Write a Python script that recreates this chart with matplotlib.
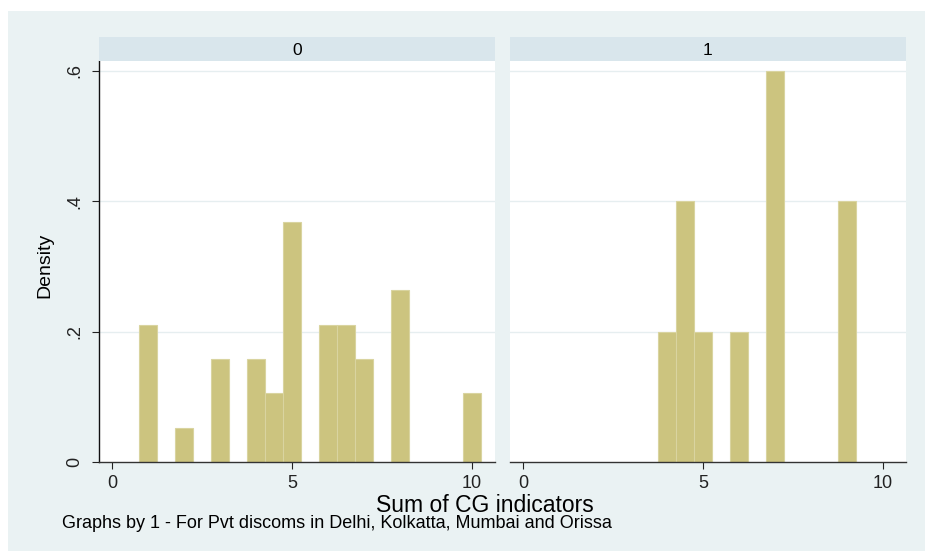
import matplotlib.pyplot as plt
import matplotlib.patches as patches

# Data -------------------------------------------------------------------

panel_labels = ["0", "1"]
# bin centres (bin width 0.5) and densities
centres_0 = [1, 2, 3, 4, 4.5, 5, 6, 6.5, 7, 8, 10]
density_0 = [4/19, 1/19, 3/19, 3/19, 2/19, 7/19, 4/19, 4/19, 3/19, 5/19, 2/19]
centres_1 = [4, 4.5, 5, 6, 7, 9]
density_1 = [0.2, 0.4, 0.2, 0.2, 0.6, 0.4]
bin_width = 0.5

x_ticks = [0, 5, 10]
y_ticks = [0, 0.2, 0.4, 0.6]
y_tick_labels = ["0", ".2", ".4", ".6"]

#-------------------------------------------------------------------------

plt.rcParams['font.family'] = ['Liberation Sans', 'DejaVu Sans']

W, H = 925, 551
fig = plt.figure(figsize=(W / 100, H / 100), dpi=100)
fig.patch.set_facecolor('white')

bg = '#EAF2F3'
strip = '#D9E6EC'
bar_col = '#CCC47F'
grid_col = '#E6EEF0'

# outer light background
fig.patches.append(patches.Rectangle((8 / W, 0), 1 - 8 / W, 1 - 11 / H,
                                     transform=fig.transFigure, facecolor=bg,
                                     edgecolor='none', zorder=-10))


def px_box(x0, x1, y0, y1):
    # pixel box (top-down y) to figure fractions
    return [x0 / W, 1 - y1 / H, (x1 - x0) / W, (y1 - y0) / H]


def draw_panel(x0, x1, centres, dens, label, show_y):
    ax = fig.add_axes(px_box(x0, x1, 61, 462))
    ax.set_facecolor('white')
    ax.bar(centres, dens, width=bin_width, color=bar_col,
           edgecolor='#D9D4A0', linewidth=0.8, zorder=2)
    ax.set_xlim(-0.361, 10.64)
    ax.set_ylim(0, 0.6153)
    for y in y_ticks[1:]:
        ax.axhline(y, color=grid_col, linewidth=1, zorder=1)
    for s in ['top', 'right']:
        ax.spines[s].set_visible(False)
    ax.spines['bottom'].set_color('#333333')
    ax.spines['bottom'].set_linewidth(1)
    ax.set_xticks(x_ticks)
    ax.set_xticklabels([str(t) for t in x_ticks], fontsize=13)
    ax.tick_params(axis='x', length=5, width=0.8, pad=4, colors='#222222')
    if show_y:
        ax.spines['left'].set_color('#111111')
        ax.spines['left'].set_linewidth(1)
        ax.set_yticks(y_ticks)
        ax.set_yticklabels(y_tick_labels, fontsize=13, rotation=90, va='center')
        ax.tick_params(axis='y', length=5, width=0.8, pad=6, colors='#222222')
    else:
        ax.spines['left'].set_visible(False)
        ax.set_yticks([])

    # header strip
    hx = fig.add_axes(px_box(x0, x1, 37, 61))
    hx.set_facecolor(strip)
    hx.set_xticks([])
    hx.set_yticks([])
    for s in hx.spines.values():
        s.set_visible(False)
    hx.text(0.5, 0.45, label, ha='center', va='center', fontsize=12.5,
            transform=hx.transAxes)
    return ax


draw_panel(99, 495, centres_0, density_0, panel_labels[0], True)
draw_panel(510, 906, centres_1, density_1, panel_labels[1], False)

fig.text(45 / W, 1 - 265 / H, "Density", rotation=90, ha='center', va='center',
         fontsize=14)
fig.text(485 / W, 1 - 505 / H, "Sum of CG indicators", ha='center', va='center',
         fontsize=16.5)
fig.text(62 / W, 1 - 523 / H,
         "Graphs by 1 - For Pvt discoms in Delhi, Kolkatta, Mumbai and Orissa",
         ha='left', va='center', fontsize=13)

plt.savefig("out.png", dpi=100)
